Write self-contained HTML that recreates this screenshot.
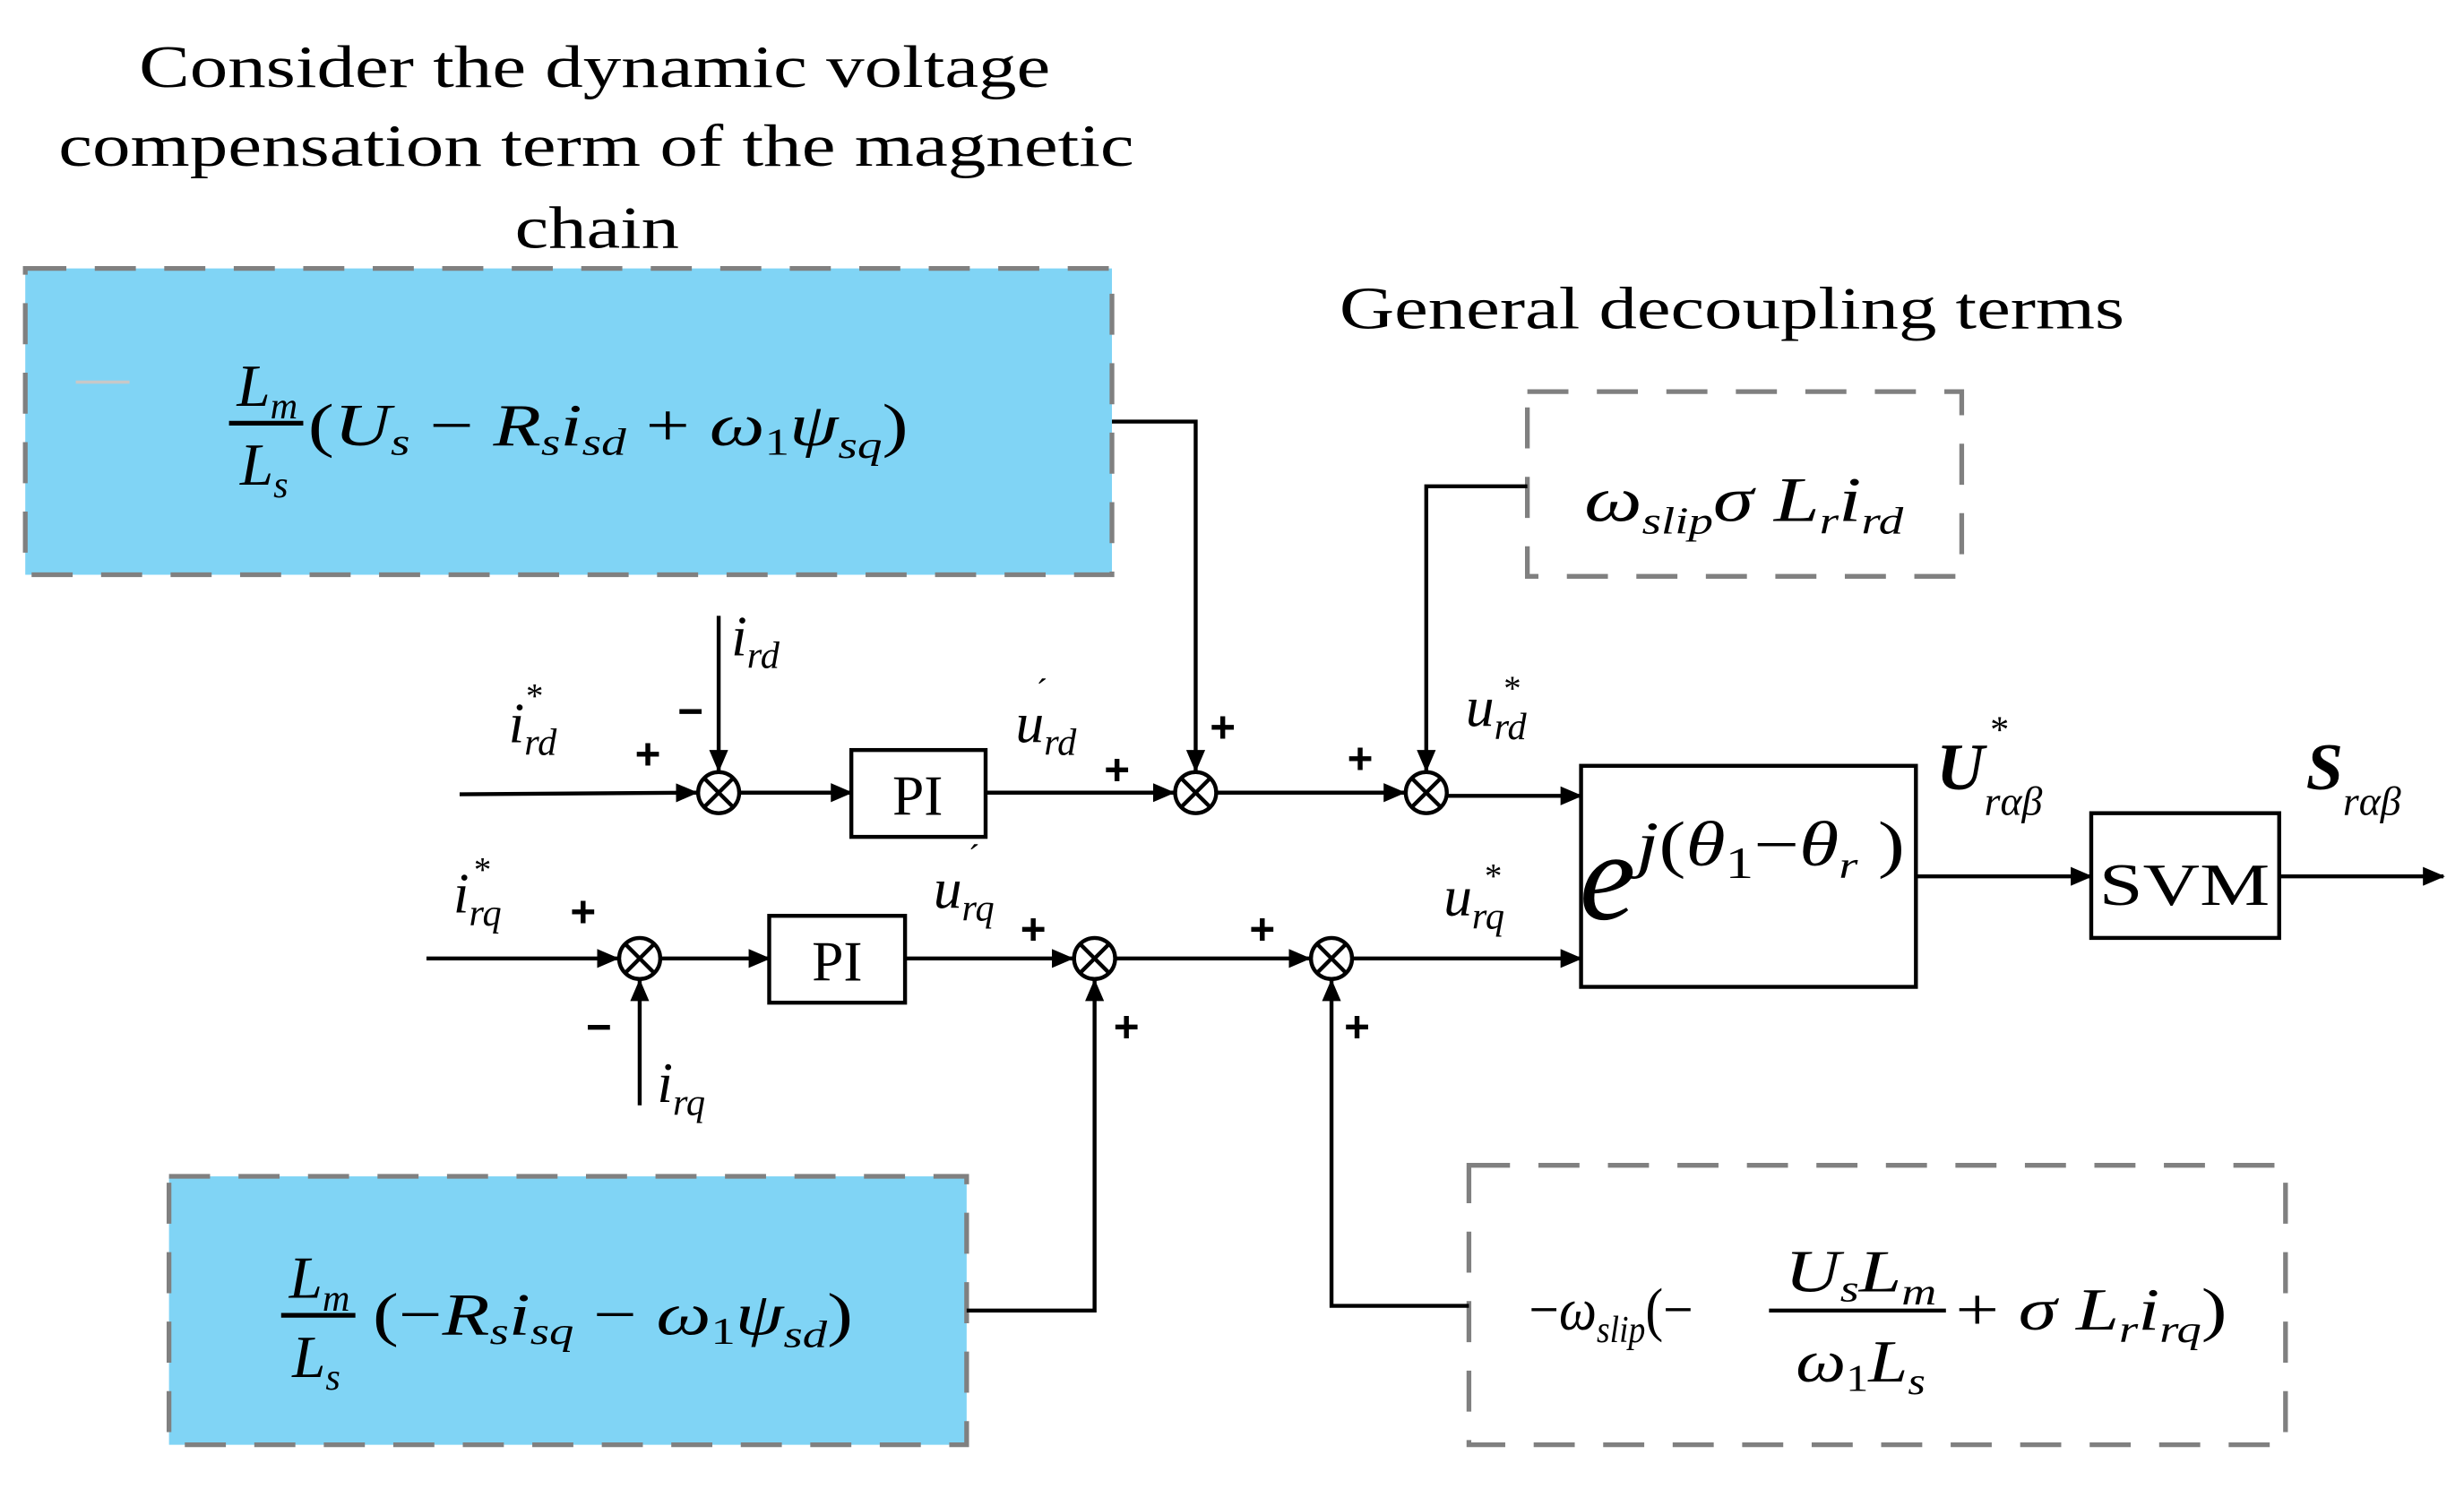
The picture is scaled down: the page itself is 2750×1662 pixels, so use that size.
<!DOCTYPE html>
<html><head><meta charset="utf-8"><style>
html,body{margin:0;padding:0;background:#fff;}
svg{display:block;}
text{font-family:"Liberation Serif",serif;fill:#000;}
.i{font-style:italic;}
.b{font-family:"Liberation Sans",sans-serif;font-weight:bold;font-size:28px;}
</style></head><body>
<svg width="2750" height="1662" viewBox="0 0 1560 943" preserveAspectRatio="none" xmlns="http://www.w3.org/2000/svg">
<defs>
<marker id="a" markerWidth="14" markerHeight="12" refX="13" refY="6" orient="auto" markerUnits="userSpaceOnUse">
<path d="M0,0 L14,6 L0,12 Z" fill="#000"/></marker>
</defs>

<!-- titles -->
<g font-size="38">
<text x="88" y="55" textLength="577" lengthAdjust="spacingAndGlyphs">Consider the dynamic voltage</text>
<text x="37" y="105" textLength="681" lengthAdjust="spacingAndGlyphs">compensation term of the magnetic</text>
<text x="326" y="157" textLength="104" lengthAdjust="spacingAndGlyphs">chain</text>
<text x="848" y="208" textLength="497" lengthAdjust="spacingAndGlyphs">General decoupling terms</text>
</g>

<!-- blue box 1 -->
<rect x="16" y="170" width="688" height="194" fill="#80d4f5" stroke="#808080" stroke-width="3" stroke-dasharray="26,18"/>
<line x1="48" y1="242" x2="82" y2="242" stroke="#c8c8c8" stroke-width="2"/>
<text class="i" font-size="38" x="150" y="257">L<tspan font-size="24" dy="8">m</tspan></text>
<line x1="145" y1="268" x2="192" y2="268" stroke="#000" stroke-width="3"/>
<text class="i" font-size="38" x="152" y="307">L<tspan font-size="24" dy="8">s</tspan></text>
<text class="i" font-size="38" x="195" y="282" textLength="380" lengthAdjust="spacingAndGlyphs"><tspan font-style="normal">(</tspan>U<tspan font-size="24" dy="6">s</tspan><tspan dy="-6" font-style="normal"> − </tspan>R<tspan font-size="24" dy="6">s</tspan><tspan dy="-6">i</tspan><tspan font-size="24" dy="6">sd</tspan><tspan dy="-6" font-style="normal"> + </tspan>ω<tspan font-size="24" dy="6" font-style="normal">1</tspan><tspan dy="-6">ψ</tspan><tspan font-size="24" dy="8">sq</tspan><tspan dy="-8" font-style="normal">)</tspan></text>

<!-- blue box 2 -->
<rect x="107" y="745" width="505" height="170" fill="#80d4f5" stroke="#808080" stroke-width="3" stroke-dasharray="26,18"/>
<text class="i" font-size="38" x="183" y="822">L<tspan font-size="24" dy="8">m</tspan></text>
<line x1="178" y1="833" x2="225" y2="833" stroke="#000" stroke-width="3"/>
<text class="i" font-size="38" x="185" y="872">L<tspan font-size="24" dy="8">s</tspan></text>
<text class="i" font-size="38" x="236" y="845" textLength="304" lengthAdjust="spacingAndGlyphs"><tspan font-style="normal">(−</tspan>R<tspan font-size="24" dy="6">s</tspan><tspan dy="-6">i</tspan><tspan font-size="24" dy="6">sq</tspan><tspan dy="-6" font-style="normal"> − </tspan>ω<tspan font-size="24" dy="6" font-style="normal">1</tspan><tspan dy="-6">ψ</tspan><tspan font-size="24" dy="8">sd</tspan><tspan dy="-8" font-style="normal">)</tspan></text>

<!-- dashed box 2 -->
<rect x="967" y="248" width="275" height="117" fill="none" stroke="#808080" stroke-width="3" stroke-dasharray="26,18"/>
<text class="i" font-size="40" x="1003" y="330" textLength="202" lengthAdjust="spacingAndGlyphs">ω<tspan font-size="24" dy="8">slip</tspan><tspan dy="-8">σ</tspan> L<tspan font-size="24" dy="8">r</tspan><tspan dy="-8">i</tspan><tspan font-size="24" dy="8">rd</tspan></text>

<!-- dashed box 3 -->
<rect x="930" y="738" width="517" height="177" fill="none" stroke="#808080" stroke-width="3" stroke-dasharray="26,18"/>
<text class="i" font-size="38" x="968" y="842" textLength="104" lengthAdjust="spacingAndGlyphs"><tspan font-style="normal">−</tspan>ω<tspan font-size="24" dy="8">slip</tspan><tspan dy="-8" font-style="normal">(−</tspan></text>
<text class="i" font-size="38" x="1130" y="818" textLength="96" lengthAdjust="spacingAndGlyphs">U<tspan font-size="24" dy="6">s</tspan><tspan dy="-6">L</tspan><tspan font-size="24" dy="8">m</tspan></text>
<line x1="1120" y1="830" x2="1232" y2="830" stroke="#000" stroke-width="2.5"/>
<text class="i" font-size="38" x="1137" y="875" textLength="82" lengthAdjust="spacingAndGlyphs">ω<tspan font-size="24" dy="6" font-style="normal">1</tspan><tspan dy="-6">L</tspan><tspan font-size="24" dy="8">s</tspan></text>
<text class="i" font-size="38" x="1238" y="842" textLength="172" lengthAdjust="spacingAndGlyphs"><tspan font-style="normal">+</tspan> σ L<tspan font-size="24" dy="8">r</tspan><tspan dy="-8">i</tspan><tspan font-size="24" dy="8">rq</tspan><tspan dy="-8" font-style="normal">)</tspan></text>

<!-- lines -->
<g stroke="#000" stroke-width="2.5" fill="none">
<line x1="291" y1="503" x2="441" y2="502" marker-end="url(#a)"/>
<line x1="455" y1="390" x2="455" y2="488" marker-end="url(#a)"/>
<line x1="468" y1="502" x2="539" y2="502" marker-end="url(#a)"/>
<line x1="624" y1="502" x2="743" y2="502" marker-end="url(#a)"/>
<polyline points="704,267 757,267 757,488" marker-end="url(#a)"/>
<line x1="770" y1="502" x2="889" y2="502" marker-end="url(#a)"/>
<polyline points="967,308 903,308 903,488" marker-end="url(#a)"/>
<line x1="916" y1="504" x2="1001" y2="504" marker-end="url(#a)"/>

<line x1="270" y1="607" x2="391" y2="607" marker-end="url(#a)"/>
<line x1="405" y1="700" x2="405" y2="621" marker-end="url(#a)"/>
<line x1="418" y1="607" x2="487" y2="607" marker-end="url(#a)"/>
<line x1="573" y1="607" x2="679" y2="607" marker-end="url(#a)"/>
<polyline points="612,830 693,830 693,621" marker-end="url(#a)"/>
<line x1="706" y1="607" x2="829" y2="607" marker-end="url(#a)"/>
<polyline points="930,827 843,827 843,621" marker-end="url(#a)"/>
<line x1="856" y1="607" x2="1001" y2="607" marker-end="url(#a)"/>

<line x1="1213" y1="555" x2="1324" y2="555" marker-end="url(#a)"/>
<line x1="1443" y1="555" x2="1547" y2="555" marker-end="url(#a)"/>

<rect x="539" y="475" width="85" height="55"/>
<rect x="487" y="580" width="86" height="55"/>
<rect x="1001" y="485" width="212" height="140"/>
<rect x="1324" y="515" width="119" height="79"/>
</g>

<!-- summing junctions -->
<g stroke="#000" stroke-width="2.5" fill="#fff">
<g transform="translate(455,502)"><circle r="13"/><path d="M-9,-9L9,9M9,-9L-9,9"/></g>
<g transform="translate(757,502)"><circle r="13"/><path d="M-9,-9L9,9M9,-9L-9,9"/></g>
<g transform="translate(903,502)"><circle r="13"/><path d="M-9,-9L9,9M9,-9L-9,9"/></g>
<g transform="translate(405,607)"><circle r="13"/><path d="M-9,-9L9,9M9,-9L-9,9"/></g>
<g transform="translate(693,607)"><circle r="13"/><path d="M-9,-9L9,9M9,-9L-9,9"/></g>
<g transform="translate(843,607)"><circle r="13"/><path d="M-9,-9L9,9M9,-9L-9,9"/></g>
</g>

<!-- box texts -->
<text x="581" y="516" font-size="36" text-anchor="middle">PI</text>
<text x="530" y="621" font-size="36" text-anchor="middle">PI</text>
<text x="1383" y="573" font-size="38" text-anchor="middle" textLength="108" lengthAdjust="spacingAndGlyphs">SVM</text>
<text x="1000" y="582" font-size="80" font-style="italic">e</text>
<text class="i" x="1036" y="548" font-size="40" textLength="170" lengthAdjust="spacingAndGlyphs">j<tspan font-style="normal">(</tspan>θ<tspan font-style="normal" font-size="28" dy="8">1</tspan><tspan dy="-8" font-style="normal">−</tspan>θ<tspan font-size="24" dy="8">r</tspan><tspan dy="-8" font-style="normal"> )</tspan></text>

<!-- signal labels -->
<text class="i" x="322" y="470" font-size="36">i<tspan font-size="24" dy="8">rd</tspan></text>
<text x="333" y="448" font-size="22">*</text>
<text class="i" x="463" y="415" font-size="36">i<tspan font-size="24" dy="8">rd</tspan></text>
<text class="i" x="643" y="470" font-size="36">u<tspan font-size="24" dy="8">rd</tspan></text>
<text x="656" y="445" font-size="22">´</text>
<text class="i" x="928" y="460" font-size="36">u<tspan font-size="24" dy="8">rd</tspan></text>
<text x="952" y="443" font-size="22">*</text>
<text class="i" x="287" y="578" font-size="36">i<tspan font-size="24" dy="8">rq</tspan></text>
<text x="300" y="558" font-size="22">*</text>
<text class="i" x="416" y="698" font-size="36">i<tspan font-size="24" dy="8">rq</tspan></text>
<text class="i" x="591" y="575" font-size="36">u<tspan font-size="24" dy="8">rq</tspan></text>
<text x="613" y="550" font-size="22">´</text>
<text class="i" x="914" y="580" font-size="36">u<tspan font-size="24" dy="8">rq</tspan></text>
<text x="940" y="562" font-size="22">*</text>
<text x="1226" y="500" font-size="42" font-weight="bold" font-style="italic">U<tspan font-size="26" font-weight="normal" dy="16">rαβ</tspan></text>
<text x="1260" y="470" font-size="24">*</text>
<text x="1460" y="500" font-size="42" font-weight="bold" font-style="italic">S<tspan font-size="26" font-weight="normal" dy="16">rαβ</tspan></text>

<!-- signs -->
<text x="402" y="487" class="b">+</text>
<text x="429" y="460" class="b">−</text>
<text x="699" y="497" class="b">+</text>
<text x="766" y="470" class="b">+</text>
<text x="853" y="490" class="b">+</text>
<text x="361" y="587" class="b">+</text>
<text x="371" y="660" class="b">−</text>
<text x="646" y="598" class="b">+</text>
<text x="705" y="660" class="b">+</text>
<text x="791" y="598" class="b">+</text>
<text x="851" y="660" class="b">+</text>
</svg>
</body></html>
